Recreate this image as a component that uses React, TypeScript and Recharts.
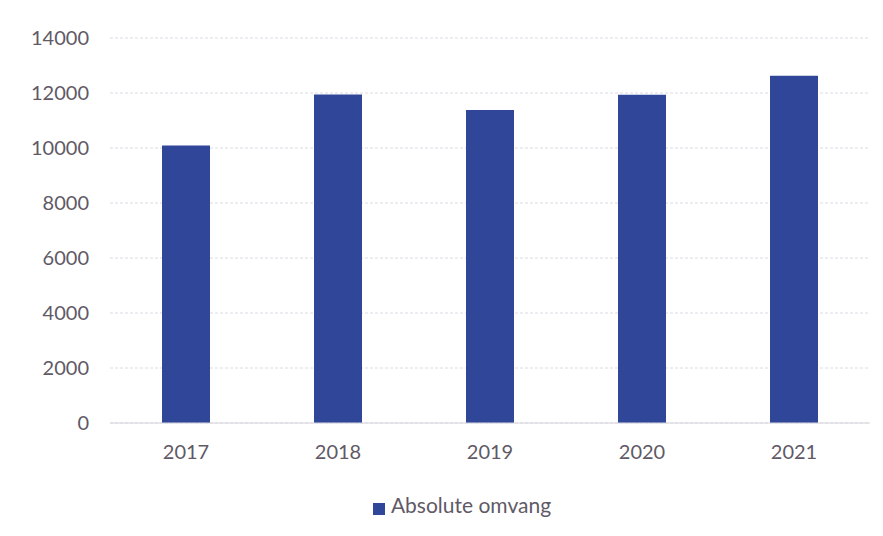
import React from "react"
import {
  BarChart, Bar, XAxis, YAxis, CartesianGrid, Legend,
} from "recharts"

const years = ["2017", "2018", "2019", "2020", "2021"]
const omvang = [10090, 11950, 11380, 11940, 12630]
const yTicks = [0, 2000, 4000, 6000, 8000, 10000, 12000, 14000]

const data = years.map((year, i) => ({ year, omvang: omvang[i] }))

const textColor = "#5f5a66"
const barColor = "#2f4699"

const App: React.FC = () => (
  <div style={{ position: "absolute", left: 0, top: 0, width: 883, height: 536, background: "#fff", fontFamily: "Lato, sans-serif" }}>
    <BarChart
      width={883}
      height={536}
      data={data}
      margin={{ top: 38, right: 13, left: 0, bottom: 0 }}
    >
      <CartesianGrid vertical={false} stroke="#dcdce4" strokeDasharray="3 2" />
      <XAxis
        dataKey="year"
        height={69}
        tickLine={false}
        tickSize={0}
        tickMargin={22}
        axisLine={{ stroke: "#d4d4dc" }}
        tick={{ fill: textColor, fontSize: 20 }}
      />
      <YAxis
        width={110}
        domain={[0, 14000]}
        ticks={yTicks}
        axisLine={false}
        tickLine={false}
        tickSize={0}
        tickMargin={21}
        tick={{ fill: textColor, fontSize: 20 }}
      />
      <Legend
        verticalAlign="bottom"
        align="center"
        height={44}
        iconType="square"
        iconSize={12}
        wrapperStyle={{ paddingLeft: 64, boxSizing: "border-box" }}
        formatter={(value: string) => <span style={{ color: textColor, fontSize: 21, marginLeft: 2 }}>{value}</span>}
      />
      <Bar dataKey="omvang" name="Absolute omvang" fill={barColor} barSize={48} isAnimationActive={false} />
    </BarChart>
  </div>
)

export default App
